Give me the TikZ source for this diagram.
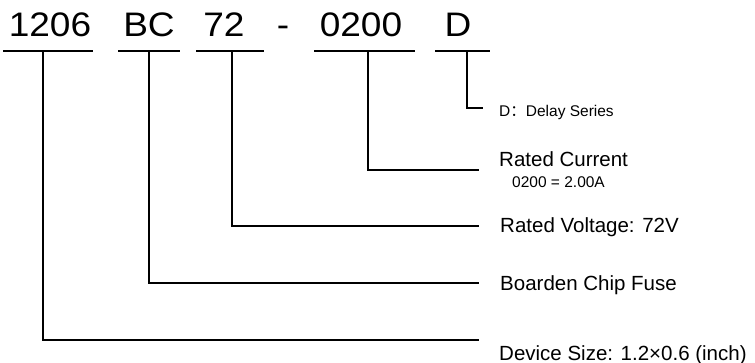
\documentclass[tikz,border=0pt]{standalone}
\usepackage{fontspec}
\setmainfont{Liberation Sans}
\newfontfamily\bigfont[FakeStretch=1.09]{Liberation Sans}
\newfontfamily\cjk{Noto Sans CJK SC}
\begin{document}
\begin{tikzpicture}[x=1pt,y=-1pt,
  code/.style={font=\bigfont\fontsize{34}{36}\selectfont, anchor=base, inner sep=0pt},
  lbl/.style={font=\fontsize{20.5}{24}\selectfont, anchor=base west, inner sep=0pt},
  small/.style={font=\fontsize{15.5}{18}\selectfont, anchor=base west, inner sep=0pt},
  ln/.style={line width=1.6pt, line cap=rect}]
\useasboundingbox (0,0) rectangle (755,363);
% code parts
\node[code] (c1) at (50,37) {1206};
\node[code] (c2) at (149,37) {BC};
\node[code] (c3) at (224,37) {72};
\node[code] (c4) at (283,37) {-};
\node[code] (c5) at (361,37) {0200};
\node[code] (c6) at (458,37) {D};
% underlines
\coordinate (a1) at (4,51); \coordinate (b1) at (92,51);
\coordinate (a2) at (119,51); \coordinate (b2) at (179,51);
\coordinate (a3) at (197,51); \coordinate (b3) at (263,51);
\coordinate (a5) at (315,51); \coordinate (b5) at (414,51);
\coordinate (a6) at (436,51); \coordinate (b6) at (489,51);
\draw[ln] (a1) -- (b1);
\draw[ln] (a2) -- (b2);
\draw[ln] (a3) -- (b3);
\draw[ln] (a5) -- (b5);
\draw[ln] (a6) -- (b6);
% tap points
\coordinate (t1) at (43,51);
\coordinate (t2) at (149,51);
\coordinate (t3) at (232,51);
\coordinate (t5) at (368,51);
\coordinate (t6) at (467,51);
% end points
\coordinate (e1) at (478,340);
\coordinate (e2) at (478,283);
\coordinate (e3) at (478,226);
\coordinate (e5) at (478,170);
\coordinate (e6) at (482,108);
\draw[ln] (t1) |- (e1);
\draw[ln] (t2) |- (e2);
\draw[ln] (t3) |- (e3);
\draw[ln] (t5) |- (e5);
\draw[ln] (t6) |- (e6);
% labels
\node[small] (l6) at (499,117) {D{\cjk ：}Delay Series};
\node[lbl] (l5) at (499,167) {Rated Current};
\node[small] (l5b) at (512,188) {0200 = 2.00A};
\node[lbl] (l3) at (500,233) {Rated Voltage: 72V};
\node[lbl] (l2) at (500,291) {Boarden Chip Fuse};
\node[lbl] (l1) at (499,360) {Device Size: 1.2×0.6 (inch)};
\end{tikzpicture}
\end{document}
